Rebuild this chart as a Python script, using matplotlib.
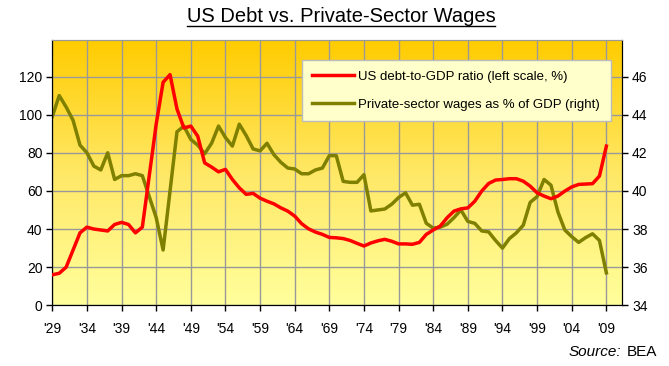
import numpy as np
import matplotlib
matplotlib.use("Agg")
import matplotlib.pyplot as plt
from matplotlib.colors import LinearSegmentedColormap

plt.rcParams['font.family'] = ['Liberation Sans', 'DejaVu Sans']

years = list(range(1929, 2010))

debt_gdp = [16, 16.8, 20, 29, 38, 41, 40, 39.5, 39, 42.4, 43.5, 42.4, 38, 41,
            68, 95, 117, 121, 103, 93, 94, 88.7, 74.7, 72.5, 70, 71.3, 66, 61.6,
            58.2, 58.7, 56.2, 54.6, 53.2, 51.1, 49.4, 46.8, 42.8, 40.1, 38.4, 37.2,
            35.6, 35.4, 35, 34, 32.5, 31.1, 32.7, 33.8, 34.6, 33.6, 32.2, 32.2,
            32, 33, 37.2, 39.5, 41.5, 45.9, 49.4, 50.6, 51.1, 54.6, 59.9, 63.9,
            65.7, 66, 66.4, 66.4, 65.1, 62.5, 59, 57.3, 55.9, 57.3, 59.9, 62.1,
            63.4, 63.6, 63.8, 67.8, 83.5]

wages_gdp = [43.9, 45.0, 44.4, 43.7, 42.4, 42.0, 41.3, 41.1, 42.0, 40.6, 40.8,
             40.8, 40.9, 40.8, 39.7, 38.6, 36.9, 40.0, 43.1, 43.4, 42.7, 42.4,
             41.95, 42.5, 43.4, 42.8, 42.35, 43.5, 42.9, 42.2, 42.1, 42.5, 41.9,
             41.5, 41.2, 41.15, 40.9, 40.9, 41.1, 41.2, 41.85, 41.85, 40.5, 40.45,
             40.45, 40.85, 38.95, 39.0, 39.05, 39.3, 39.65, 39.9, 39.25, 39.3,
             38.3, 38.05, 38.1, 38.25, 38.6, 39.0, 38.4, 38.3, 37.9, 37.85, 37.4,
             37.0, 37.5, 37.8, 38.2, 39.4, 39.7, 40.6, 40.3, 38.9, 37.95, 37.6,
             37.3, 37.55, 37.75, 37.4, 35.7]

tick_years = list(range(1929, 2010, 5))
tick_labels = ["'%02d" % (y % 100) for y in tick_years]

fig = plt.figure(figsize=(6.69, 3.66), dpi=100)
ax2 = fig.add_axes([52.3/669, 1-305.3/366, (622.3-52.3)/669, (305.3-40.3)/366])
ax = ax2.twinx()
ax.yaxis.tick_left()
ax2.yaxis.tick_right()
ax.set_zorder(ax2.get_zorder() + 1)
ax.patch.set_visible(False)

xlim = (1929, 2011.3)

# background gradient
cmap = LinearSegmentedColormap.from_list('bg', ['#FFFF9C', '#FFE866', '#FFCC00'])
grad = np.linspace(0, 1, 256).reshape(-1, 1)
ax2.imshow(grad, cmap=cmap, origin='lower', aspect='auto',
           extent=[xlim[0], xlim[1], 34, 47.9], zorder=0)
ax2.set_xlim(*xlim)
ax2.set_ylim(34, 47.9)
ax.set_ylim(0, 139)

ax2.set_xticks(tick_years)
ax2.set_xticklabels(tick_labels)
ax2.set_yticks(range(34, 47, 2))
ax.set_yticks(range(0, 121, 20))
ax2.grid(True, color='#999999', linewidth=1, zorder=1)
ax2.set_axisbelow(True)

l2, = ax2.plot(years, wages_gdp, color='#808000', lw=2.5,
               label='Private-sector wages as % of GDP (right)', zorder=3)
l1, = ax.plot(years, debt_gdp, color='#FF0000', lw=2.5,
              label='US debt-to-GDP ratio (left scale, %)', zorder=3)

for a in (ax, ax2):
    a.tick_params(axis='both', labelsize=10, length=4, width=1, color='black',
                  direction='out', pad=3)
    a.spines['top'].set_color('#999999')
    a.spines['left'].set_color('black')
    a.spines['bottom'].set_color('black')
    a.spines['right'].set_color('black')
ax2.tick_params(axis='x', pad=8)

leg = ax.legend(handles=[l1, l2], loc='upper left',
                bbox_to_anchor=(301.7/669, 1-60/366), bbox_transform=fig.transFigure,
                fontsize=9.5, frameon=True, fancybox=False, borderaxespad=0,
                handlelength=3.2, handletextpad=0.3, labelspacing=1.2,
                borderpad=0.8)
leg.get_frame().set_facecolor('#FFFFCC')
leg.get_frame().set_edgecolor('#BBBBBB')
leg.get_frame().set_alpha(1)
leg.get_frame().set_linewidth(1)

title = fig.text(341/669, 1-17/366, 'US Debt vs. Private-Sector Wages', ha='center',
                 va='center', fontsize=14.5)
fig.text(627/669, 1-352/366, 'BEA', ha='left', va='center', fontsize=11)
fig.text(621/669, 1-352/366, 'Source:', ha='right', va='center', fontsize=11,
         style='italic')

fig.canvas.draw()
bb = title.get_window_extent().transformed(fig.transFigure.inverted())
fig.add_artist(plt.Line2D([bb.x0, bb.x1], [bb.y0 + 0.002, bb.y0 + 0.002],
                          color='black', lw=1, transform=fig.transFigure))

fig.savefig('out.png', dpi=100)
